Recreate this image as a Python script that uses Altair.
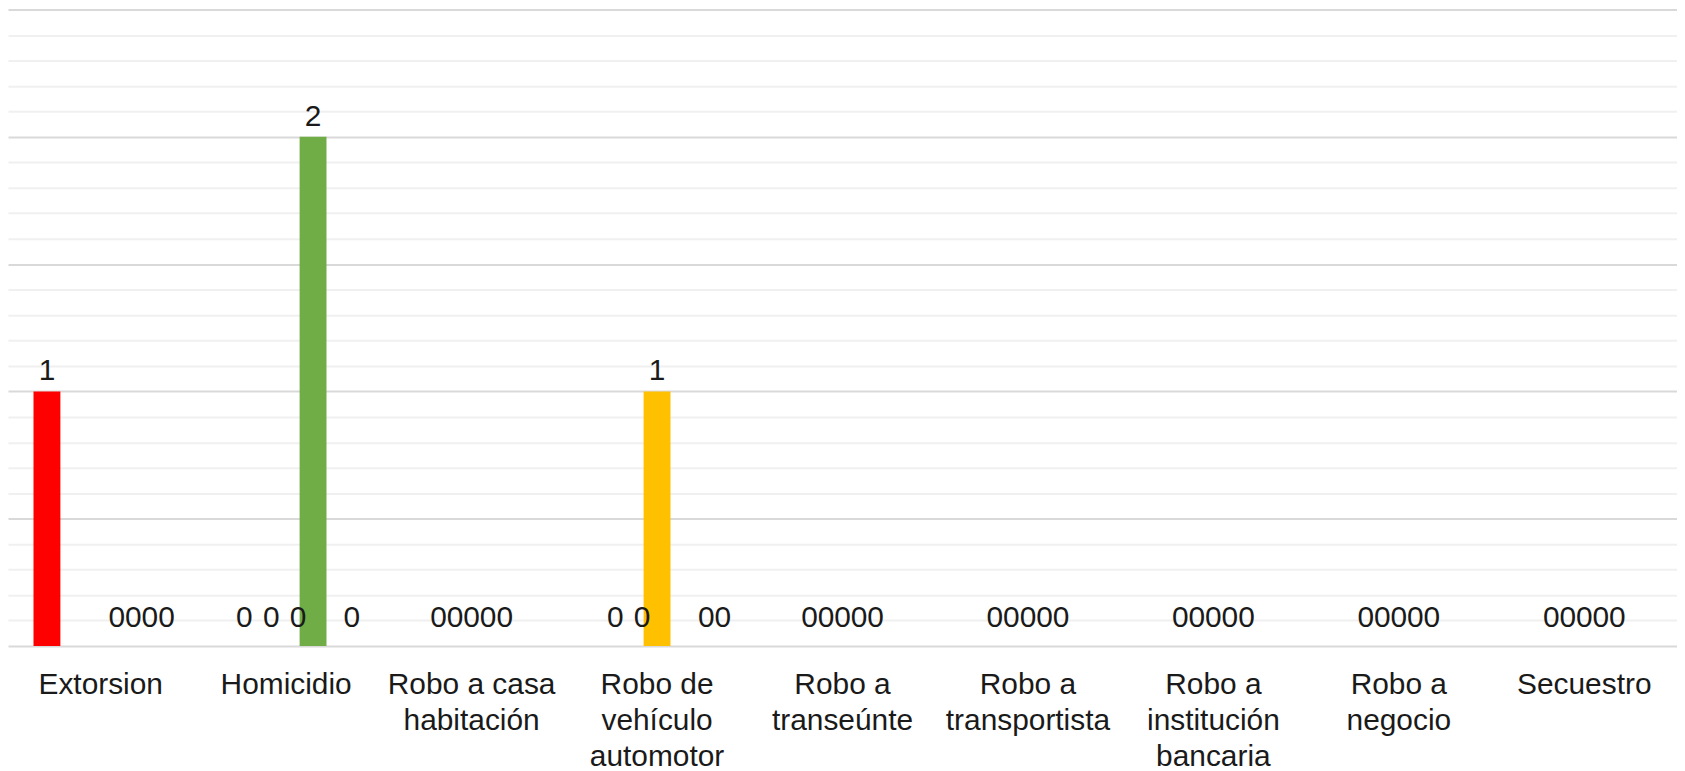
import json
import textwrap

import altair as alt
import pandas as pd

# ---------------- data ----------------
categories = [
    "Extorsion",
    "Homicidio",
    "Robo a casa habitación",
    "Robo de vehículo automotor",
    "Robo a transeúnte",
    "Robo a transportista",
    "Robo a institución bancaria",
    "Robo a negocio",
    "Secuestro",
]
series_names = ["Serie 1", "Serie 2", "Serie 3", "Serie 4", "Serie 5"]
serie_1 = [1, 0, 0, 0, 0, 0, 0, 0, 0]
serie_2 = [0, 0, 0, 0, 0, 0, 0, 0, 0]
serie_3 = [0, 0, 0, 1, 0, 0, 0, 0, 0]
serie_4 = [0, 2, 0, 0, 0, 0, 0, 0, 0]
serie_5 = [0, 0, 0, 0, 0, 0, 0, 0, 0]
colors = ["#FF0000", "#4472C4", "#FFC000", "#70AD47", "#5B9BD5"]

# ---------------- layout / style ----------------
W, H = 1676, 639
N, S = len(categories), len(series_names)
STEP = W / N
PAD_INNER = 0.275
BAR = STEP * (1 - PAD_INNER) / S
PACK = 16.6          # spacing of packed zero labels (px)
SHIFT = 12           # zero-label shift in mixed groups (px)
FONT = "Liberation Sans"
FS = 30
TXT = "#1a1a1a"

values_by_series = [serie_1, serie_2, serie_3, serie_4, serie_5]
rows = []
for k, cat in enumerate(categories):
    col = [vals[k] for vals in values_by_series]
    all_zero = all(v == 0 for v in col)
    center = (S - 1) / 2
    offsets = [0.0] * S
    # find runs of zeros
    i = 0
    while i < S:
        if col[i] != 0:
            offsets[i] = (i - center) * BAR
            i += 1
            continue
        j = i
        while j < S and col[j] == 0:
            j += 1
        run = list(range(i, j))
        if all_zero:
            for m in run:
                offsets[m] = (m - center) * PACK
        elif i > 0:
            # run following a bar: packed, right-aligned to last slot
            end = (run[-1] - center) * BAR + SHIFT
            for m in run:
                offsets[m] = end - (run[-1] - m) * PACK
        else:
            for m in run:
                offsets[m] = (m - center) * BAR + SHIFT
        i = j
    for idx, (s, v) in enumerate(zip(series_names, col)):
        rows.append(dict(cat=cat, serie=s, value=v, pos=k + offsets[idx] / STEP, label=str(v)))
df = pd.DataFrame(rows)

wrapped = [textwrap.wrap(c, 11, break_long_words=False) for c in categories]
arr = "[" + ",".join(json.dumps(w, ensure_ascii=False) for w in wrapped) + "]"
label_expr = f"{arr}[indexof({json.dumps(categories, ensure_ascii=False)}, datum.value)]"

minor_vals = [j / 10 for j in range(26) if j % 5 != 0]
major_vals = [0, 0.5, 1, 1.5, 2, 2.5]
yscale = alt.Scale(domain=[0, 2.5], nice=False, zero=True)

base = alt.Chart(df)

bars = base.mark_bar().encode(
    x=alt.X(
        "cat:N",
        sort=categories,
        scale=alt.Scale(paddingInner=PAD_INNER, paddingOuter=PAD_INNER / 2),
        axis=alt.Axis(
            title=None, labelExpr=label_expr, labelAngle=0, labelAlign="center",
            labelBaseline="top", labelPadding=24, labelFontSize=FS, labelFont=FONT,
            labelColor=TXT, labelLineHeight=36, labelOverlap=False, labelLimit=400,
            ticks=False, tickSize=0, domain=False, grid=False,
        ),
    ),
    xOffset=alt.XOffset("serie:N", sort=series_names,
                        scale=alt.Scale(paddingInner=0, paddingOuter=0)),
    y=alt.Y("value:Q", scale=yscale,
            axis=alt.Axis(title=None, values=minor_vals, grid=True, gridColor="#f0f0f0",
                          gridWidth=2, labels=False, ticks=False, domain=False)),
    color=alt.Color("serie:N", scale=alt.Scale(domain=series_names, range=colors), legend=None),
)

xq = alt.X("pos:Q", scale=alt.Scale(domain=[-0.5, N - 0.5], nice=False, zero=False), axis=None)

labels_nz = base.transform_filter("datum.value != 0").mark_text(
    baseline="alphabetic", dy=-11, fontSize=FS, font=FONT, color=TXT
).encode(
    x=xq,
    y=alt.Y("value:Q", scale=yscale,
            axis=alt.Axis(title=None, values=major_vals, grid=True, gridColor="#d9d9d9",
                          gridWidth=2, labels=False, ticks=False, domain=False)),
    text="label:N",
)

labels_zero = base.transform_filter("datum.value == 0").mark_text(
    baseline="alphabetic", dy=-19, fontSize=FS, font=FONT, color=TXT
).encode(
    x=xq,
    y=alt.Y("value:Q", scale=yscale, axis=None),
    text="label:N",
)

chart = (
    alt.layer(bars, labels_nz, labels_zero)
    .resolve_scale(x="independent")
    .resolve_axis(y="independent")
    .properties(
        width=W, height=H, autosize="none",
        padding={"left": 0, "top": 0, "right": 0, "bottom": 130},
    )
    .configure_view(stroke=None)
)

chart.save("out.html", embed_options={"renderer": "svg", "actions": False})
